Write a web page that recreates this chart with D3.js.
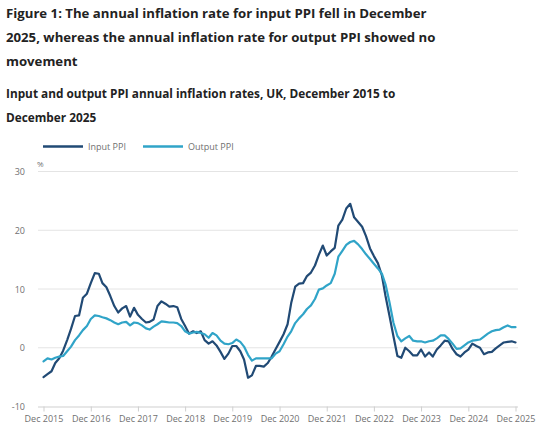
<!DOCTYPE html>
<html><head><meta charset="utf-8">
<script src="https://cdn.jsdelivr.net/npm/d3@7"></script>
<style>
body{margin:0;background:#fff;}
svg{display:block;font-family:"Open Sans",sans-serif;}
</style></head>
<body>
<script>
const titleLines = ["Figure 1: The annual inflation rate for input PPI fell in December",
  "2025, whereas the annual inflation rate for output PPI showed no", "movement"];
const subtitleLines = ["Input and output PPI annual inflation rates, UK, December 2015 to", "December 2025"];
const seriesNames = ["Input PPI", "Output PPI"];
const seriesColors = ["#214a75", "#30a4c8"];
const startMonth = "2015-12";
const yTicks = [-10, 0, 10, 20, 30];
const xTickLabels = ["Dec 2015","Dec 2016","Dec 2017","Dec 2018","Dec 2019","Dec 2020","Dec 2021","Dec 2022","Dec 2023","Dec 2024","Dec 2025"];
const inputPPI = [
 -5.0,-4.5,-4.0,-2.6,-1.8,-0.5,1.3,3.2,5.4,5.5,8.5,9.2,11.0,
 12.7,12.6,11.0,10.3,8.8,7.1,6.0,6.7,7.1,5.3,6.8,5.6,
 4.9,4.3,4.4,4.8,7.1,7.9,7.5,7.0,7.1,6.9,4.9,3.7,
 2.4,2.8,2.5,2.8,1.3,0.7,1.1,0.4,-0.7,-1.9,-1.0,0.3,
 0.3,-0.6,-2.0,-5.1,-4.7,-3.1,-3.1,-3.2,-2.6,-1.5,-0.2,1.0,
 2.3,4.0,7.6,10.4,10.9,11.0,12.2,12.8,14.0,15.8,17.4,15.7,
 16.4,17.0,20.8,21.8,23.7,24.5,22.2,21.4,20.6,19.0,16.9,15.6,
 14.4,12.3,8.8,5.4,2.0,-1.4,-1.7,0.0,-0.6,-1.3,-1.3,-0.3,
 -1.5,-0.8,-1.5,-0.3,0.4,1.2,1.1,-0.2,-1.1,-1.5,-0.8,-0.3,
 0.7,0.3,0.0,-1.1,-0.8,-0.7,-0.1,0.4,0.9,1.0,1.1,0.9];
const outputPPI = [
 -2.3,-1.8,-2.0,-1.7,-1.5,-1.4,-0.6,0.2,1.3,2.1,3.0,3.7,4.9,
 5.5,5.4,5.2,5.0,4.7,4.3,4.0,4.3,4.4,3.8,4.3,4.2,
 3.8,3.3,3.1,3.6,4.0,4.5,4.4,4.3,4.3,4.2,3.7,2.8,
 2.4,2.6,2.7,2.5,2.3,1.7,2.5,2.1,1.2,0.7,0.6,0.8,
 1.4,1.0,0.2,-1.2,-2.2,-1.8,-1.8,-1.8,-1.8,-1.8,-1.0,-0.6,
 0.6,1.9,2.8,4.2,5.0,5.7,6.6,7.2,8.3,9.9,10.1,10.6,
 11.0,12.6,15.5,16.5,17.5,18.0,18.2,17.6,16.8,15.9,15.1,14.3,
 13.5,12.6,10.8,7.7,4.3,2.0,1.1,1.6,2.0,1.2,1.1,1.1,
 0.9,1.1,1.2,1.6,2.1,2.1,1.5,0.7,-0.2,-0.1,0.4,0.9,
 1.2,1.3,1.4,1.9,2.4,2.8,3.0,3.1,3.5,3.8,3.5,3.5];

const W = 550, H = 440;
const svg = d3.select("body").append("svg").attr("width", W).attr("height", H);

const parse = d3.timeParse("%Y-%m");
const t0 = parse(startMonth);
const dates = inputPPI.map((_, i) => d3.timeMonth.offset(t0, i));
const series = [inputPPI, outputPPI];

const x = d3.scaleTime().domain([dates[0], dates[dates.length - 1]]).range([43.5, 515.5]);
const y = d3.scaleLinear().domain([-10, 30]).range([406.5, 171.5]);

// Titles
svg.append("g").selectAll("text").data(titleLines).join("text")
  .attr("x", 6).attr("y", (d, i) => 18 + i * 24)
  .attr("font-size", 13.2).attr("font-weight", 700).attr("fill", "#222")
  .text(d => d);
svg.append("g").selectAll("text").data(subtitleLines).join("text")
  .attr("x", 6).attr("y", (d, i) => 98 + i * 24)
  .attr("font-size", 11.8).attr("font-weight", 700).attr("fill", "#222")
  .text(d => d);

// Legend
const leg = svg.append("g");
const legX = [43, 143];
seriesNames.forEach((n, i) => {
  leg.append("line").attr("x1", legX[i]).attr("x2", legX[i] + 40)
    .attr("y1", 146.5).attr("y2", 146.5).attr("stroke", seriesColors[i]).attr("stroke-width", 2.5);
  leg.append("text").attr("x", legX[i] + 45).attr("y", 149.8)
    .attr("font-size", 9).attr("fill", "#707070").text(n);
});

// Gridlines & y axis labels
const gy = svg.append("g");
gy.selectAll("line").data(yTicks.filter(v => v !== -10)).join("line")
  .attr("x1", 38).attr("x2", 518)
  .attr("y1", d => y(d)).attr("y2", d => y(d))
  .attr("stroke", "#e4e4e4").attr("stroke-width", 1);
gy.selectAll("text").data(yTicks).join("text")
  .attr("x", 25).attr("y", d => y(d) + 3.5).attr("text-anchor", "end")
  .attr("font-size", 9).attr("fill", "#707070").text(d => d);
svg.append("text").attr("x", 37).attr("y", 167).attr("font-size", 8).attr("fill", "#707070").text("%");

// X axis
const xTickDates = xTickLabels.map((_, i) => d3.timeYear.offset(t0, i));
const xAxis = d3.axisBottom(x).tickValues(xTickDates)
  .tickFormat((d, i) => xTickLabels[i]).tickSize(5).tickPadding(4);
const gx = svg.append("g").attr("transform", `translate(0,${y(-10)})`).call(xAxis);
gx.select(".domain").attr("stroke", "#cfcfcf").attr("d", `M38,0.5H518`);
gx.selectAll(".tick line").attr("stroke", "#cfcfcf");
gx.selectAll(".tick text").attr("font-size", 9).attr("fill", "#707070").attr("font-family", "Open Sans");

// Lines
const line = d3.line().x((d, i) => x(dates[i])).y(d => y(d));
svg.append("g").selectAll("path").data(series).join("path")
  .attr("d", line).attr("fill", "none")
  .attr("stroke", (d, i) => seriesColors[i]).attr("stroke-width", 2.2)
  .attr("stroke-linejoin", "round").attr("stroke-linecap", "round");
</script>
</body></html>
